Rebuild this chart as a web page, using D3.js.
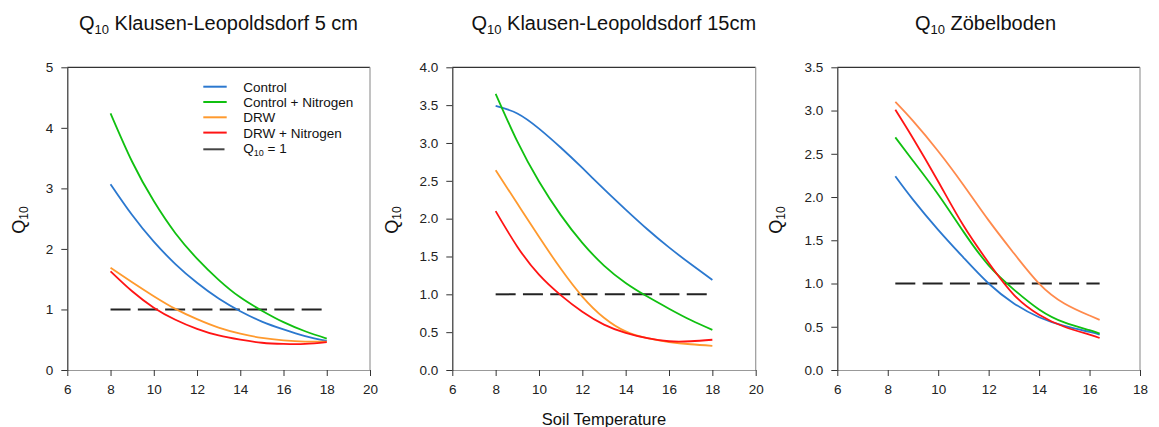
<!DOCTYPE html>
<html>
<head>
<meta charset="utf-8">
<script src="https://cdn.jsdelivr.net/npm/d3@7"></script>
<style>
  html, body { margin: 0; padding: 0; background: #fff; }
  svg { display: block; font-family: "Liberation Sans", Arial, sans-serif; }
</style>
</head>
<body>
<svg id="chart" width="1159" height="427"></svg>
<script>
// Soil temperature sample points (°C)
const temps = [8, 9, 10, 11, 12, 13, 14, 15, 16, 17, 18];
const tempsZob = [8.3, 9, 10, 11, 12, 13, 14, 15, 16, 16.4];

// Klausen-Leopoldsdorf, 5 cm
const kl5Control  = [3.07, 2.56, 2.12, 1.75, 1.44, 1.18, 0.97, 0.80, 0.67, 0.56, 0.48];
const kl5ControlN = [4.24, 3.44, 2.79, 2.26, 1.84, 1.49, 1.20, 0.98, 0.79, 0.64, 0.52];
const kl5Drw      = [1.69, 1.45, 1.22, 1.01, 0.84, 0.70, 0.60, 0.53, 0.49, 0.47, 0.47];
const kl5DrwN     = [1.63, 1.30, 1.03, 0.83, 0.68, 0.57, 0.50, 0.45, 0.43, 0.43, 0.46];

// Klausen-Leopoldsdorf, 15 cm
const kl15Control  = [3.49, 3.39, 3.19, 2.94, 2.67, 2.39, 2.12, 1.86, 1.62, 1.40, 1.19];
const kl15ControlN = [3.65, 3.02, 2.49, 2.05, 1.68, 1.38, 1.15, 0.97, 0.81, 0.66, 0.53];
const kl15Drw      = [2.64, 2.20, 1.76, 1.34, 0.97, 0.69, 0.51, 0.42, 0.37, 0.34, 0.32];
const kl15DrwN     = [2.10, 1.63, 1.26, 0.99, 0.77, 0.60, 0.49, 0.42, 0.38, 0.38, 0.40];

// Zöbelboden
const zobControl  = [2.24, 1.97, 1.62, 1.30, 1.00, 0.77, 0.61, 0.51, 0.44, 0.41];
const zobControlN = [2.69, 2.42, 2.03, 1.60, 1.21, 0.93, 0.70, 0.55, 0.46, 0.42];
const zobDrw      = [3.10, 2.88, 2.53, 2.14, 1.73, 1.35, 1.00, 0.77, 0.63, 0.58];
const zobDrwN     = [3.01, 2.68, 2.18, 1.67, 1.24, 0.87, 0.64, 0.50, 0.41, 0.37];

// Axis ticks
const xTicksKl = [6, 8, 10, 12, 14, 16, 18, 20];
const xTicksZob = [6, 8, 10, 12, 14, 16, 18];
const yTicksKl5 = [0, 1, 2, 3, 4, 5];
const yTicksKl15 = [0, 0.5, 1, 1.5, 2, 2.5, 3, 3.5, 4];
const yTicksZob = [0, 0.5, 1, 1.5, 2, 2.5, 3, 3.5];

// Reference level and legend
const q10Ref = 1;
const seriesNames = ["Control", "Control + Nitrogen", "DRW", "DRW + Nitrogen"];
const titles = ["Klausen-Leopoldsdorf 5 cm", "Klausen-Leopoldsdorf 15cm", "Zöbelboden"];
const xAxisTitle = "Soil Temperature";

const colors = ["#2b78cf", "#10c010", "#ff9a2e", "#ff1414"];
const zobColors = ["#2b78cf", "#10c010", "#ff8a4c", "#ff1414"];

const panels = [
  { left: 67.3, right: 370, xDomain: [6, 20], xTicks: xTicksKl, yDomain: [0, 5], yTicks: yTicksKl5,
    yFmt: d3.format("d"), title: titles[0], titleX: 218.5, ylabX: 19, xs: temps,
    series: [kl5Control, kl5ControlN, kl5Drw, kl5DrwN], colors: colors, legend: true },
  { left: 452.3, right: 755.7, xDomain: [6, 20], xTicks: xTicksKl, yDomain: [0, 4], yTicks: yTicksKl15,
    yFmt: d3.format(".1f"), title: titles[1], titleX: 613.8, ylabX: 392, xs: temps,
    series: [kl15Control, kl15ControlN, kl15Drw, kl15DrwN], colors: colors, xTitle: true },
  { left: 837.3, right: 1140, xDomain: [6, 18], xTicks: xTicksZob, yDomain: [0, 3.5], yTicks: yTicksZob,
    yFmt: d3.format(".1f"), title: titles[2], titleX: 985.5, ylabX: 776, xs: tempsZob,
    series: [zobControl, zobControlN, zobDrw, zobDrwN], colors: zobColors }
];

const plotTop = 67.3, plotBottom = 370;
const svg = d3.select("#chart");

panels.forEach(p => {
  const x = d3.scaleLinear().domain(p.xDomain).range([p.left, p.right]);
  const y = d3.scaleLinear().domain(p.yDomain).range([plotBottom, plotTop]);
  const g = svg.append("g");

  // Frame: top and right edges
  g.append("line").attr("x1", p.left).attr("x2", p.right).attr("y1", plotTop).attr("y2", plotTop)
    .attr("stroke", "#333").attr("stroke-width", 1.2);
  g.append("line").attr("x1", p.right).attr("x2", p.right).attr("y1", plotTop).attr("y2", plotBottom)
    .attr("stroke", "#999").attr("stroke-width", 1.2);

  // Axes
  const ax = g.append("g").attr("transform", `translate(0,${plotBottom})`)
    .call(d3.axisBottom(x).tickValues(p.xTicks).tickFormat(d3.format("d"))
      .tickSize(6).tickPadding(8).tickSizeOuter(0));
  ax.select(".domain").attr("stroke", "#999").attr("stroke-width", 1.2);
  ax.selectAll(".tick line").attr("stroke", "#333");

  const ay = g.append("g").attr("transform", `translate(${p.left},0)`)
    .call(d3.axisLeft(y).tickValues(p.yTicks).tickFormat(p.yFmt)
      .tickSize(6).tickPadding(8).tickSizeOuter(0));
  ay.select(".domain").attr("stroke", "#333").attr("stroke-width", 1.2);
  ay.selectAll(".tick line").attr("stroke", "#333");

  g.selectAll(".tick text").attr("font-size", 13.5).attr("fill", "#222")
    .attr("font-family", "Liberation Sans, Arial, sans-serif");

  // Q10 = 1 reference line
  const xs = p.xs;
  g.append("line")
    .attr("x1", x(xs[0])).attr("x2", x(xs[xs.length - 1]))
    .attr("y1", y(q10Ref)).attr("y2", y(q10Ref))
    .attr("stroke", "#222").attr("stroke-width", 2).attr("stroke-dasharray", "20,7.3");

  // Fitted Q10 curves
  const line = d3.line().x((d, i) => x(xs[i])).y(d => y(d)).curve(d3.curveNatural);
  p.series.forEach((vals, k) => {
    g.append("path").attr("d", line(vals)).attr("fill", "none")
      .attr("stroke", p.colors[k]).attr("stroke-width", 1.8);
  });

  // Title
  const t = g.append("text").attr("x", p.titleX).attr("y", 30)
    .attr("text-anchor", "middle").attr("font-size", 20).attr("fill", "#111");
  t.append("tspan").text("Q");
  t.append("tspan").attr("font-size", 13).attr("dy", 4).text("10");
  t.append("tspan").attr("dy", -4).text(" " + p.title);

  // Y axis title
  const yl = g.append("text")
    .attr("transform", `translate(${p.ylabX + 6},${220}) rotate(-90)`)
    .attr("text-anchor", "middle").attr("font-size", 18).attr("fill", "#111");
  yl.append("tspan").text("Q");
  yl.append("tspan").attr("font-size", 12).attr("dy", 3).text("10");

  if (p.xTitle) {
    g.append("text").attr("x", (p.left + p.right) / 2).attr("y", 424.5)
      .attr("text-anchor", "middle").attr("font-size", 16.5).attr("fill", "#111")
      .text(xAxisTitle);
  }

  if (p.legend) {
    const lg = g.append("g");
    const rows = seriesNames.map((name, k) => ({ name, color: p.colors[k] }));
    rows.forEach((r, k) => {
      const ry = 86.7 + k * 15.3;
      lg.append("line").attr("x1", 203.3).attr("x2", 226.7).attr("y1", ry).attr("y2", ry)
        .attr("stroke", r.color).attr("stroke-width", 2);
      lg.append("text").attr("x", 243.3).attr("y", ry + 5).attr("font-size", 13.5)
        .attr("fill", "#111").text(r.name);
    });
    const ry = 86.7 + 4 * 15.3 + 1.4;
    lg.append("line").attr("x1", 203.3).attr("x2", 224.5).attr("y1", ry).attr("y2", ry)
      .attr("stroke", "#444").attr("stroke-width", 2);
    const lt = lg.append("text").attr("x", 243.3).attr("y", ry + 3.5).attr("font-size", 13.5).attr("fill", "#111");
    lt.append("tspan").text("Q");
    lt.append("tspan").attr("font-size", 9).attr("dy", 3).text("10");
    lt.append("tspan").attr("dy", -3).text(" = 1");
  }
});
</script>
</body>
</html>
